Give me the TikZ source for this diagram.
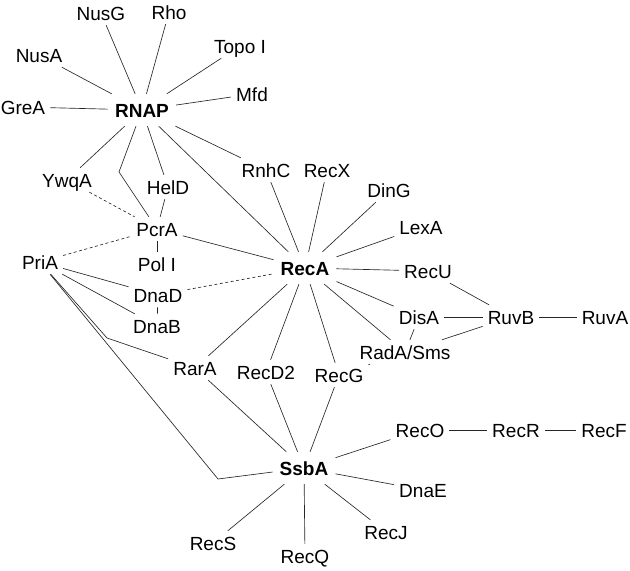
\documentclass[tikz,border=0pt]{standalone}
\usepackage{fontspec}
\setmainfont{Liberation Sans}
\begin{document}
\begin{tikzpicture}[x=1pt,y=-1pt,
    prot/.style={inner xsep=5pt,inner ysep=5pt,text height=14pt,text depth=0pt,font=\fontsize{19}{22}\selectfont},
    hub/.style={prot,inner xsep=7pt,inner ysep=9pt,font=\fontsize{19}{22}\selectfont\bfseries},
    link/.style={line width=0.65pt,draw=black!85},
    weak/.style={link,dash pattern=on 3pt off 2.5pt}]
                \useasboundingbox (0,0) rectangle (630,571);
                % hubs
                \node[hub] (RNAP) at (142,110) {RNAP};
                \node[hub] (RecA) at (305,268) {RecA};
                \node[hub] (SsbA) at (304,468) {SsbA};
                
                % around RNAP
                \node[prot] (NusG) at (101,13) {NusG};
                \node[prot] (Rho) at (169,12) {Rho};
                \node[prot] (TopoI) at (240,46) {Topo I};
                \node[prot] (NusA) at (39,55) {NusA};
                \node[prot] (Mfd) at (252,94) {Mfd};
                \node[prot] (GreA) at (23,107) {GreA};
                \node[prot] (YwqA) at (67,180) {YwqA};
                \node[prot] (HelD) at (168,187) {HelD};
                \node[prot] (RnhC) at (266,170) {RnhC};
                
                % left part
                \node[prot] (PcrA) at (157,229) {PcrA};
                \node[prot] (PolI) at (157,264) {Pol I};
                \node[prot] (PriA) at (40,262) {PriA};
                \node[prot] (DnaD) at (158,295) {DnaD};
                \node[prot] (DnaB) at (157,326) {DnaB};
                \node[prot] (RarA) at (195,368) {RarA};
                
                % around RecA
                \node[prot] (RecX) at (327,170) {RecX};
                \node[prot] (DinG) at (389,190) {DinG};
                \node[prot] (LexA) at (421,227) {LexA};
                \node[prot] (RecU) at (428,271) {RecU};
                \node[prot] (DisA) at (419,317) {DisA};
                \node[prot] (RuvB) at (511,317) {RuvB};
                \node[prot] (RuvA) at (605,317) {RuvA};
                \node[prot] (RadA) at (405,352) {RadA/Sms};
                \node[prot] (RecD2) at (266,372) {RecD2};
                \node[prot] (RecG) at (339,375) {RecG};
                
                % around SsbA
                \node[prot] (RecO) at (420,430) {RecO};
                \node[prot] (RecR) at (516,430) {RecR};
                \node[prot] (RecF) at (604,430) {RecF};
                \node[prot] (DnaE) at (423,490) {DnaE};
                \node[prot] (RecJ) at (386,532) {RecJ};
                \node[prot] (RecQ) at (305,556) {RecQ};
                \node[prot] (RecS) at (213,543) {RecS};
                
                % bends
                \coordinate (kP) at (119,172);
                \coordinate (kR) at (107,338);
                \coordinate (kS) at (218,479);
                
                \foreach \p in {NusG,Rho,TopoI,NusA,Mfd,GreA,YwqA,HelD,RnhC,RecA}
                    \draw[link] (RNAP) -- (\p);
                \draw[link] (RNAP) -- (kP) -- (PcrA);
                
                \draw[link] (HelD) -- (PcrA);
                \draw[link] (PcrA) -- (PolI);
                \draw[link] (PcrA) -- (RecA);
                \draw[weak] (YwqA) -- (PcrA);
                \draw[weak] (PriA) -- (PcrA);
                
                \draw[link] (PriA) -- (DnaD);
                \draw[link] (PriA) -- (DnaB);
                \draw[link] (DnaD) -- (DnaB);
                \draw[weak] (DnaD) -- (RecA);
                \draw[link] (PriA) -- (kR) -- (RarA);
                \draw[link] (PriA) -- (kS) -- (SsbA);
                
                \foreach \p in {RnhC,RecX,DinG,LexA,RecU,DisA,RadA,RecG,RecD2,RarA}
                    \draw[link] (RecA) -- (\p);
                
                \draw[link] (RecU) -- (RuvB);
                \draw[link] (DisA) -- (RuvB);
                \draw[link] (RuvB) -- (RuvA);
                \draw[link] (RadA) -- (RuvB);
                \draw[link] (DisA) -- (RadA);
                \draw[link] (RadA) -- (RecG);
                
                \foreach \p in {RarA,RecD2,RecG,RecO,DnaE,RecJ,RecQ,RecS}
                    \draw[link] (SsbA) -- (\p);
                \draw[link] (RecO) -- (RecR);
                \draw[link] (RecR) -- (RecF);
            \end{tikzpicture}
\end{document}
